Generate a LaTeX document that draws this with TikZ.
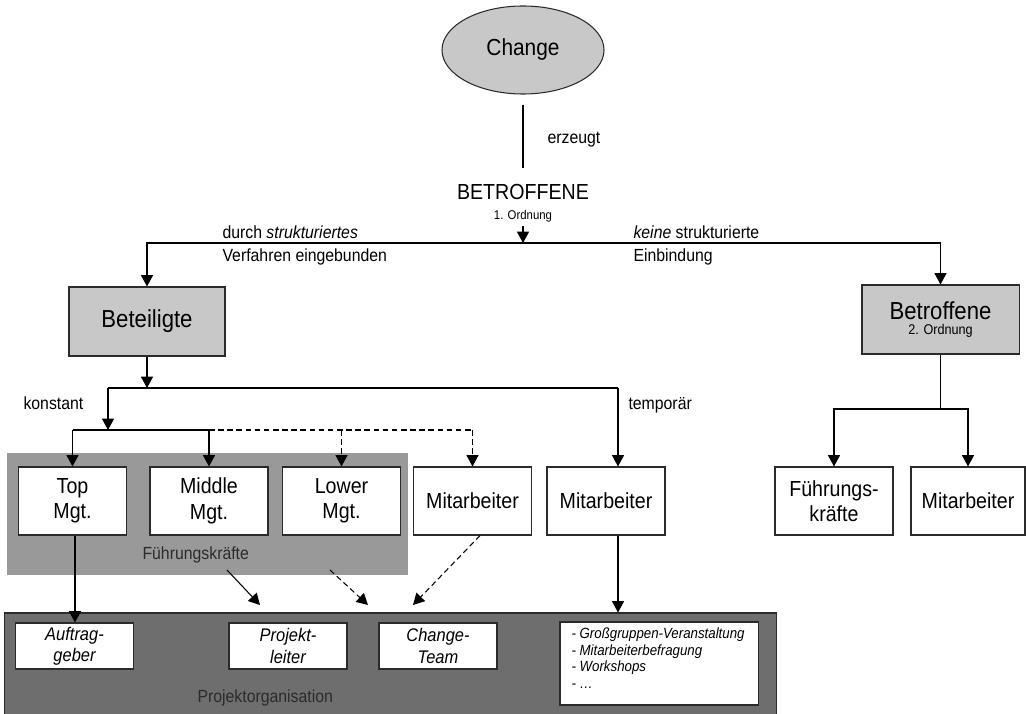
\documentclass[tikz,border=0pt]{standalone}
\usepackage{fontspec}
\setmainfont{Liberation Sans}[FakeStretch=0.9]
\usetikzlibrary{arrows.meta,shapes.geometric}
\definecolor{hellgrau}{HTML}{C8C8C8}
\definecolor{mittelgrau}{HTML}{999999}
\definecolor{dunkelgrau}{HTML}{6E6E6E}
\definecolor{strich}{HTML}{2B2B2B}

\begin{document}
\begin{tikzpicture}[x=0.025cm,y=-0.025cm,line width=0.75pt,
        pfeil/.style={-{Triangle[length=8pt,width=8.5pt]}},
        gestrichelt/.style={dash pattern=on 4pt off 2.5pt},
        kasten/.style={draw=strich,fill=white,align=center,inner sep=1pt,
            minimum width=2.95cm,minimum height=1.7cm,
            font=\fontsize{15.5}{18}\selectfont},
        grau/.style={draw=strich,fill=hellgrau,align=center,inner sep=1pt,
            minimum width=3.9cm,minimum height=1.725cm},
        innen/.style={draw=strich,fill=white,align=center,inner sep=1pt,
            minimum width=2.95cm,minimum height=1.15cm,
            font=\fontsize{13}{15}\selectfont\itshape},
        gruppe/.style={draw=none,inner sep=0pt},
        klein/.style={inner sep=0pt,font=\fontsize{12.5}{15}\selectfont}]

        \useasboundingbox (0,0) rectangle (1026,714);

        % Gruppen im Hintergrund
        \node[gruppe,fill=mittelgrau,minimum width=10.025cm,minimum height=3.05cm] (fkgruppe) at (207.5,514) {};
        \node[gruppe,fill=dunkelgrau,draw=strich,minimum width=19.275cm,minimum height=2.8cm] (projorg) at (390.5,669) {};
        \node[klein,anchor=base west,text=strich] (fklabel) at (142,559) {Führungskräfte};
        \node[klein,anchor=base west,text=strich] (polabel) at (197,702) {Projektorganisation};

        % oberer Teil
        \node[ellipse,draw=strich,fill=hellgrau,minimum width=4.05cm,minimum height=2.2cm,
            inner sep=0pt,font=\fontsize{16.5}{19}\selectfont] (change) at (523,50) {Change};
        \node[inner sep=0pt,font=\fontsize{15.5}{18}\selectfont] (betr1) at (523,192) {BETROFFENE};
        \node[inner sep=0pt,font=\fontsize{9}{11}\selectfont] (ord1) at (523,216) {1. Ordnung};
        \node[klein,anchor=west] (erzeugt) at (547,140) {erzeugt};
        \coordinate (gabel) at (523,243);

        \draw[shorten <=0.25cm,shorten >=0.4cm] (change.south) -- (betr1.north);
        \draw[pfeil] (ord1.south) ++(0,4) -- (gabel);

        \node[grau,font=\fontsize{17.5}{20}\selectfont] (bet) at (147,321.5) {Beteiligte};
        \node[grau,minimum width=3.925cm] (betr2) at (940.5,319.5)
            {{\fontsize{17.5}{20}\selectfont Betroffene}\\[-1pt]{\fontsize{10}{12}\selectfont 2. Ordnung}};

        \draw[pfeil] (gabel) -| (bet.north);
        \draw[pfeil] (gabel) -| (betr2.north);

        \node[klein,anchor=base west] (durch) at (222,239) {durch \textit{strukturiertes}};
        \node[klein,anchor=base west] (verf) at (222,262) {Verfahren eingebunden};
        \node[klein,anchor=base west] (keine) at (633,239) {\textit{keine} strukturierte};
        \node[klein,anchor=base west] (einb) at (633,262) {Einbindung};

        % Beteiligte
        \coordinate (verteiler) at (147,388);
        \coordinate (konst) at (108,388);
        \coordinate (temp) at (618,388);
        \coordinate (fkleiste) at (108,430);
        \node[klein,anchor=base west] (konstant) at (23,410) {konstant};
        \node[klein,anchor=base west] (temporaer) at (628,410) {temporär};

        \node[kasten,minimum width=2.7cm] (top) at (72.5,501) {Top\\Mgt.};
        \node[kasten] (middle) at (209,501) {Middle\\Mgt.};
        \node[kasten] (lower) at (341.5,501) {Lower\\Mgt.};
        \node[kasten] (mit1) at (472.5,501) {Mitarbeiter};
        \node[kasten] (mit2) at (606,501) {Mitarbeiter};

        \draw[pfeil] (bet.south) -- (verteiler);
        \draw (konst) -- (temp);
        \draw[pfeil] (konst) -- (fkleiste);
        \draw (fkleiste -| top.north) -- (fkleiste -| middle.north);
        \draw[gestrichelt] (fkleiste -| middle.north) -- (fkleiste -| mit1.north);
        \draw[pfeil] (fkleiste -| top.north) -- (top.north);
        \draw[pfeil] (fkleiste -| middle.north) -- (middle.north);
        \draw[pfeil,gestrichelt] (fkleiste -| lower.north) -- (lower.north);
        \draw[pfeil,gestrichelt] (fkleiste -| mit1.north) -- (mit1.north);
        \draw[pfeil] (temp) -- (temp |- mit2.north);

        % Betroffene 2. Ordnung
        \node[kasten] (fk2) at (834,501) {Führungs-\\kräfte};
        \node[kasten,minimum width=2.85cm] (mit3) at (968,501) {Mitarbeiter};
        \coordinate (rechts) at (940.5,409);
        \draw (betr2.south) -- (rechts);
        \draw[pfeil] (rechts) -| (fk2.north);
        \draw[pfeil] (rechts) -| (mit3.north);

        % Projektorganisation
        \node[innen] (auftr) at (74.5,646) {Auftrag-\\geber};
        \node[innen] (projl) at (288,646) {Projekt-\\leiter};
        \node[innen] (cteam) at (438,646) {Change-\\Team};
        \node[draw=strich,fill=white,minimum width=4.95cm,minimum height=2.075cm,
            inner sep=0pt] (liste) at (659,663.5) {};
        \node[anchor=north west,align=left,inner sep=0pt,
            font=\fontsize{10.5}{12}\selectfont\itshape] (listtext) at (571,627)
            {- Großgruppen-Veranstaltung\\- Mitarbeiterbefragung\\- Workshops\\- \dots};

        \coordinate (plende) at (260,605);
        \coordinate (ctende) at (368,605);
        \coordinate (mitende) at (413,605);
        \draw[pfeil] (top.south -| 75,0) -- (auftr.north -| 75,0);
        \draw[pfeil] (227,570) -- (plende);
        \draw[pfeil,gestrichelt] (330,570) -- (ctende);
        \draw[pfeil,gestrichelt] (mit1.south -| 480,0) -- (mitende);
        \draw[pfeil] (temp |- mit2.south) -- (temp |- projorg.north);
    \end{tikzpicture}
\end{document}
